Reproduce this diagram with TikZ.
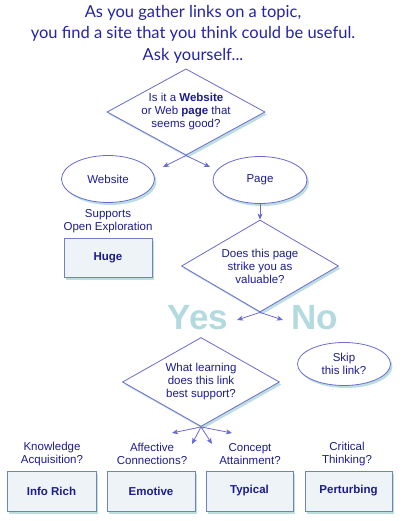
\documentclass[tikz,border=0pt]{standalone}
\usepackage{fontspec}
\setmainfont{Liberation Sans}
\newfontfamily\titlefont{Lato}
\usetikzlibrary{shapes.geometric,shadows,arrows.meta}
\definecolor{linec}{HTML}{6A6AD2}
\definecolor{txtc}{HTML}{1C1C8E}
\definecolor{titc}{HTML}{2424A4}
\definecolor{glow}{HTML}{9FD0D2}
\definecolor{boxfill}{HTML}{EDF3F7}
\definecolor{boxline}{HTML}{6E84C2}
\definecolor{yesc}{HTML}{B3DADE}
\begin{document}
\begin{tikzpicture}[x=1pt,y=-1pt,
  every node/.style={text=txtc,font=\fontsize{11.5}{13}\selectfont,align=center},
  glowshadow/.style={drop shadow={shadow xshift=2pt,shadow yshift=-2.5pt,fill=glow,opacity=0.7}},
  dec/.style={diamond,aspect=1.8,draw=linec,line width=0.8pt,fill=white,inner sep=0pt,glowshadow},
  oval/.style={ellipse,draw=linec,line width=0.8pt,fill=white,inner sep=0pt,glowshadow},
  outbox/.style={rectangle,draw=boxline,line width=0.8pt,fill=boxfill,inner sep=0pt,
     minimum width=88pt,minimum height=39pt,font=\fontsize{11.5}{13}\selectfont\bfseries,glowshadow},
  arr/.style={draw=linec,line width=0.8pt,-{Stealth[length=6pt,width=5pt,inset=1.5pt]}},
  big/.style={text=yesc,font=\fontsize{35}{38}\selectfont\bfseries,inner sep=0pt}
]
\useasboundingbox (0,0) rectangle (409,521);
% title
\node[text=titc,font=\titlefont\fontsize{16.5}{21.5}\selectfont] (title) at (193,34)
  {As you gather links on a topic,\\you find a site that you think could be useful.\\Ask yourself...};
% decision 1
\node[dec,minimum width=158pt,minimum height=86pt] (d1) at (186,112)
  {Is it a \textbf{Website}\\or Web \textbf{page} that\\seems good?};
\coordinate (t1a) at (163,167);
\coordinate (t1b) at (210,167);
\draw[arr] (d1.south) -- (t1a);
\draw[arr] (d1.south) -- (t1b);
% ellipses
\node[oval,minimum width=93pt,minimum height=47pt] (web) at (108,179) {Website};
\node[oval,minimum width=94pt,minimum height=47pt] (page) at (260,180) {Page};
\node (sup) at (108,221) {Supports\\Open Exploration};
\node[outbox] (huge) at (108,258) {Huge};
% decision 2
\node[dec,minimum width=157pt,minimum height=92pt] (d2) at (260,266)
  {Does this page\\strike you as\\valuable?};
\draw[arr] (page.south) -- (d2.north);
% Yes / No
\node[big] (yes) at (198,318) {Yes};
\node[big] (no) at (315,318) {No};
\coordinate (t2a) at (237,320);
\coordinate (t2b) at (283,320);
\draw[arr] (d2.south) -- (t2a);
\draw[arr] (d2.south) -- (t2b);
% skip
\node[oval,minimum width=93pt,minimum height=43pt] (skip) at (344,364) {Skip\\this link?};
% decision 3
\node[dec,minimum width=157pt,minimum height=89pt] (d3) at (201,382)
  {What learning\\does this link\\best support?};
\coordinate (f1) at (172,433);
\coordinate (f2) at (192,444);
\coordinate (f3) at (212,444);
\coordinate (f4) at (232,433);
\foreach \t in {f1,f2,f3,f4} \draw[arr] (d3.south) -- (\t);
% bottom labels
\node (l1) at (52,454) {Knowledge\\Acquisition?};
\node (l2) at (152,454) {Affective\\Connections?};
\node (l3) at (250,454) {Concept\\Attainment?};
\node (l4) at (347,454) {Critical\\Thinking?};
\node[outbox,minimum width=89pt,minimum height=40pt] (b1) at (51.5,491) {Info Rich};
\node[outbox,minimum width=88pt,minimum height=40pt] (b2) at (151,491) {Emotive};
\node[outbox,minimum width=87pt,minimum height=40pt] (b3) at (249.5,491) {Typical};
\node[outbox,minimum width=87pt,minimum height=40pt] (b4) at (348.5,491) {Perturbing};
\end{tikzpicture}
\end{document}
